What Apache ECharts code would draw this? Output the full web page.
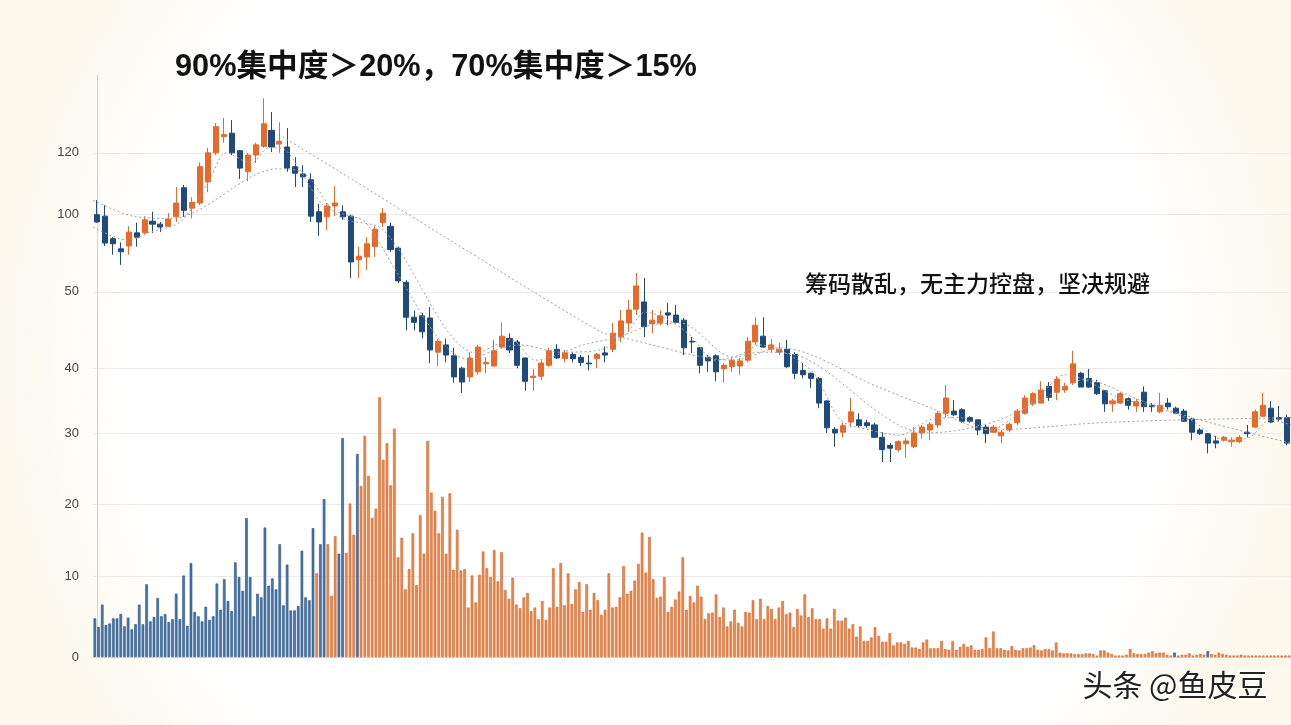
<!DOCTYPE html>
<html>
<head>
<meta charset="utf-8">
<title>筹码集中度</title>
<script src="https://cdn.jsdelivr.net/npm/echarts@6/dist/echarts.min.js"></script>
<style>
  html, body { margin: 0; padding: 0; background: #fff; }
  #chip { width: 1291px; height: 725px; }
</style>
</head>
<body>
<div id="chip"></div>
<script>
// y轴刻度（原图刻度不均匀，按位置给出）
var yTickValues = [0, 11.1, 21.0, 30.8, 39.7, 50.2, 60.8, 69.3];
var yTickLabels = ['0', '10', '20', '30', '40', '50', '100', '120'];

// K线 [开, 收, 低, 高]
var kline = [
  [60.8,59.8,59.7,62.8],[60.6,56.9,56.5,62.1],[57.5,56.8,55.3,57.7],[56.1,55.7,53.9,57.0],
  [56.5,58.4,55.3,59.2],[58.3,57.7,56.4,59.7],[58.3,60.1,58.1,60.6],[59.9,59.5,58.3,61.2],
  [59.5,59.1,58.4,59.8],[59.2,60.2,59.1,61.0],[60.5,62.4,59.8,64.6],[64.5,61.4,60.5,64.9],
  [61.7,62.5,60.3,63.2],[62.4,67.4,62.1,68.0],[65.3,69.3,63.9,70.0],[69.3,72.9,69.0,73.4],
  [71.5,71.8,70.7,74.1],[72.0,69.3,69.0,73.8],[69.6,67.2,65.7,69.7],[66.7,69.0,65.4,69.3],
  [69.0,70.4,67.9,70.7],[70.2,73.3,70.0,76.8],[72.4,70.1,69.4,74.9],[70.5,70.9,69.3,73.5],
  [70.1,67.2,66.7,72.7],[67.4,66.5,64.6,68.7],[66.4,66.0,64.6,67.6],[65.6,60.6,59.8,66.5],
  [61.2,59.8,57.9,62.3],[60.5,62.0,58.7,62.4],[62.0,62.4,60.6,64.7],[61.2,60.5,60.1,62.1],
  [60.6,54.3,52.1,60.8],[54.6,55.1,52.1,56.4],[55.0,56.8,53.2,57.7],[56.4,58.8,55.0,59.2],
  [59.7,61.0,59.1,61.7],[59.2,56.0,55.7,59.7],[56.2,51.7,51.4,56.4],[51.5,46.7,44.9,51.8],
  [46.7,46.0,44.9,47.6],[46.9,44.7,43.8,47.3],[46.6,42.2,40.4,48.1],[41.9,43.4,40.0,43.7],
  [42.9,41.5,40.5,43.8],[41.4,38.5,37.7,42.5],[39.7,37.8,36.3,39.9],[38.5,41.1,37.8,41.9],
  [39.2,42.6,38.8,42.9],[40.3,40.5,39.0,41.2],[40.0,42.1,39.9,43.6],[42.6,44.1,42.5,46.0],
  [43.8,42.2,41.8,44.5],[43.3,40.1,39.7,43.6],[41.1,37.9,36.6,41.2],[38.4,38.6,36.6,39.6],
  [38.6,40.4,38.1,40.8],[40.1,42.1,39.9,42.5],[42.3,41.1,41.0,43.0],[41.0,41.8,40.5,42.2],
  [41.6,41.0,40.5,41.9],[41.2,40.5,40.0,41.5],[40.4,40.3,39.4,41.5],[41.0,41.6,39.7,41.8],
  [41.8,41.5,40.5,42.7],[42.3,44.5,41.9,45.9],[44.0,46.2,43.3,47.7],[45.9,47.7,44.7,49.1],
  [47.8,51.0,47.0,52.8],[48.8,45.4,44.0,52.1],[45.8,46.3,44.5,47.7],[45.9,46.9,45.6,47.6],
  [47.3,47.0,45.6,48.7],[47.0,46.0,45.9,48.4],[46.3,42.5,41.5,46.6],[43.4,43.3,41.8,44.0],
  [42.5,40.1,39.0,42.6],[41.2,40.7,39.2,41.5],[41.4,39.2,37.9,41.6],[39.6,40.1,37.7,40.4],
  [39.9,40.8,39.2,41.2],[40.0,40.7,38.8,41.1],[40.8,43.4,40.5,44.0],[43.3,45.6,42.9,46.7],
  [44.1,42.6,42.5,46.7],[42.3,42.9,41.9,43.7],[41.9,42.3,41.5,43.2],[42.3,39.9,39.7,43.6],
  [41.6,39.0,38.2,41.9],[39.4,38.8,38.3,40.4],[39.0,38.3,37.0,39.1],[38.3,34.9,34.2,38.5],
  [35.2,31.5,30.8,35.3],[31.3,30.8,28.9,31.6],[30.9,31.8,30.2,32.2],[32.3,33.7,31.6,35.6],
  [32.6,31.8,31.6,33.5],[32.2,31.8,31.5,32.6],[31.9,30.2,30.1,32.2],[30.2,28.5,26.8,30.9],
  [29.1,28.7,26.8,29.4],[28.5,29.6,28.2,29.8],[29.3,29.7,27.4,30.1],[28.9,30.8,28.7,31.6],
  [30.8,31.6,30.0,31.9],[31.2,32.0,29.8,32.3],[31.9,33.5,31.5,33.8],[33.5,35.6,32.9,37.4],
  [33.8,33.3,33.1,35.3],[34.0,32.4,32.2,34.2],[32.9,32.4,32.2,33.1],[32.6,31.2,30.5,32.7],
  [31.6,30.7,29.4,31.9],[30.9,31.6,30.8,31.9],[30.4,30.9,29.4,31.2],[31.2,32.0,30.9,32.2],
  [32.2,33.8,31.9,34.1],[33.5,35.6,33.3,36.0],[34.8,36.2,34.5,36.4],[34.9,36.7,34.9,37.9],
  [37.2,35.7,35.2,37.8],[36.4,38.2,35.3,38.6],[36.7,37.2,36.3,37.7],[37.7,40.3,37.4,42.1],
  [39.0,37.1,37.1,39.2],[38.3,37.1,37.0,39.6],[37.7,36.2,36.0,38.1],[36.6,34.8,33.7,36.7],
  [34.8,35.2,33.7,35.5],[34.9,36.2,34.8,36.4],[35.5,34.6,34.0,35.7],[34.5,35.1,33.7,35.5],
  [36.4,34.4,33.7,37.2],[34.6,34.4,33.7,34.9],[33.7,34.6,33.5,36.3],[34.9,34.4,34.0,35.6],
  [34.2,33.5,33.4,34.4],[33.8,32.4,32.3,34.1],[32.7,30.9,29.8,32.9],[31.2,30.7,30.5,31.5],
  [30.7,29.4,28.0,30.8],[29.7,29.4,28.7,30.4],[29.8,30.2,29.6,30.4],[29.6,29.8,28.9,30.2],
  [29.6,30.2,29.4,30.5],[30.9,30.7,30.2,31.9],[31.6,33.7,31.5,34.0],[33.1,34.6,33.0,36.3],
  [34.2,32.3,32.2,35.2],[32.9,32.7,32.4,34.5],[32.9,29.4,29.1,33.3]
];

// 均线（虚线），[K线序号, 数值]
var maFast = [
  [-0.5,59.1],[3.8,57.3],[6.7,58.4],[10.5,59.8],[14.0,65.2],[16.3,69.3],[19.4,67.9],[21.7,70.0],
  [23.7,69.7],[25.6,66.9],[28.5,62.1],[31.3,60.8],[33.8,59.8],[37.6,53.2],[43.2,43.6],[47.0,40.8],
  [49.5,41.9],[53.3,42.9],[58.4,41.9],[63.4,42.2],[66.6,44.3],[69.1,47.4],[71.6,46.6],[74.7,44.3],
  [77.9,40.8],[81.0,41.5],[83.6,42.9],[87.3,41.5],[90.5,38.8],[93.7,32.6],[97.4,31.2],[101.2,30.5],
  [105.0,32.6],[108.8,32.9],[112.6,31.2],[115.1,32.6],[118.9,36.0],[122.0,38.8],[124.5,38.1],
  [128.9,35.6],[132.7,34.6],[137.8,32.6],[142.2,29.8],[145.3,30.2],[147.9,32.6],[150.5,31.9]
];
var maMid = [
  [-0.5,62.8],[4.5,60.6],[9.5,60.3],[22.7,67.1],[26.1,66.5],[30.6,60.5],[36.1,58.7],[47.8,41.8],
  [52.2,43.6],[55.3,40.8],[61.3,42.9],[65.8,44.0],[69.7,45.6],[73.5,45.9],[80.2,41.2],[83.6,41.9],
  [88.2,41.5],[98.7,33.5],[101.6,31.6],[104.4,30.8],[108.8,31.2],[113.8,32.6],[118.9,35.3],
  [124.5,38.1],[131.5,35.3],[139.0,32.6],[150.5,29.4]
];
var maSlow = [
  [23.4,71.5],[30.6,66.7],[44.5,57.3],[63.5,44.7],[66.6,43.8],[80.2,40.8],[86.1,42.5],[98.7,37.0],
  [105.2,34.2],[112.6,31.2],[126.4,32.2],[136.9,32.6],[150.5,32.9]
];

// 筹码柱
var vol = [
  5.3,4.1,7.2,4.4,4.6,5.3,5.3,5.9,4.2,5.4, 3.8,4.5,7.2,4.5,10.0,4.9,5.5,8.1,5.6,5.9,
  4.8,5.2,8.7,5.2,11.2,4.3,12.9,6.2,5.6,4.9, 6.9,5.1,5.6,10.1,6.5,10.7,7.7,6.3,13.0,11.0,
  9.1,19.1,11.0,5.6,8.7,8.2,17.8,9.8,10.8,9.3, 15.5,7.1,12.7,6.4,6.4,7.0,14.6,8.2,7.8,17.7,
  11.5,15.5,21.7,15.5,8.4,16.6,14.2,30.1,14.3,21.1, 16.8,27.9,23.5,30.4,24.9,19.1,20.4,35.7,27.1,29.4,
  23.6,31.4,13.7,16.4,9.3,12.1,17.0,9.9,19.5,14.2, 29.7,22.6,20.1,17.0,22.0,14.2,22.5,12.0,17.5,11.9,
  12.1,6.8,11.2,7.5,11.3,14.5,12.2,11.0,14.7,10.4, 14.4,9.2,8.0,10.9,7.2,6.7,8.2,8.8,6.3,6.8,
  5.2,7.7,5.1,6.8,12.2,6.9,12.9,7.1,11.5,7.3, 9.3,10.3,6.2,10.0,6.5,8.8,7.8,5.8,6.5,11.5,
  6.8,6.9,8.2,12.5,8.7,9.1,10.5,12.8,17.1,11.6, 16.5,10.7,8.1,8.3,11.0,6.2,6.9,7.9,9.0,13.7,
  6.5,8.4,7.5,9.8,8.3,5.2,6.0,6.1,8.6,5.5, 6.8,4.2,4.9,6.5,4.7,4.2,6.2,6.1,7.8,5.2,
  8.0,5.2,7.0,6.6,5.2,6.8,7.7,5.9,6.1,4.1, 6.6,5.7,8.6,5.5,6.7,5.2,5.2,3.9,5.3,3.9,
  6.6,5.0,5.0,5.4,3.9,4.5,2.8,4.2,2.2,2.2, 2.7,4.1,2.9,2.1,2.1,3.3,1.6,2.0,2.0,1.8,
  2.2,1.3,1.3,1.1,2.0,2.4,1.2,1.2,1.2,2.2, 1.1,1.0,2.2,1.0,1.4,1.8,1.4,1.6,1.0,1.0,
  1.1,2.7,1.2,3.5,1.2,1.2,1.0,0.9,1.5,1.0, 0.9,1.2,1.2,1.3,1.6,1.0,0.9,1.1,1.1,0.9,
  2.0,0.6,0.5,0.5,0.5,0.4,0.4,0.4,0.5,0.5, 0.4,0.2,0.9,0.9,0.6,0.4,0.2,0.2,0.2,0.3,
  1.1,0.5,0.4,0.4,0.4,0.6,0.8,0.5,0.6,0.6, 0.3,0.2,0.6,0.2,0.3,0.3,0.5,0.2,0.3,0.4,
  0.3,0.8,0.4,0.3,0.6,0.4,0.3,0.2,0.2,0.2, 0.3,0.2,0.2,0.2,0.2,0.2,0.2,0.2,0.2,0.2,
  0.2,0.2,0.2,0.2
];
// 蓝色柱：前 blueCount 根，以及个别序号
var blueCount = 60;
var blueExtra = [61, 62, 66, 67, 71, 292, 301];

var kDays = kline.map(function (d, i) { return i + 1; });
var volDays = vol.map(function (d, i) { return i + 1; });

var UP = '#e8692a', DOWN = '#1f4a7c';

function renderChip() {
  var dom = document.getElementById('chip');
  var myChart = echarts.init(dom);

  var maStyle = { color: '#a0a0a0', width: 1, type: [2, 2.5] };

  var blueStyle = { color: '#4878ad', borderColor: '#264f7d', borderWidth: 0.6 };
  var orangeStyle = { color: '#ef8848', borderColor: '#d0622a', borderWidth: 0.6 };
  var volData = vol.map(function (v, i) {
    var blue = i < blueCount || blueExtra.indexOf(i) >= 0;
    return { value: v, itemStyle: blue ? blueStyle : orangeStyle };
  });

  var option = {
    animation: false,
    backgroundColor: {
      type: 'radial', x: 0.5, y: 0.5, r: 0.9,
      colorStops: [
        { offset: 0, color: '#ffffff' },
        { offset: 0.8, color: '#ffffff' },
        { offset: 1, color: '#fcf8ec' }
      ]
    },
    grid: { left: 93, right: 0, top: 75, bottom: 68 },
    xAxis: [
      {
        type: 'category', data: kDays, boundaryGap: true,
        axisLine: { show: true, lineStyle: { color: '#d4d4d4' } },
        axisTick: { show: false }, axisLabel: { show: false }, splitLine: { show: false }
      },
      {
        type: 'category', data: volDays, boundaryGap: true, show: false
      },
      {
        type: 'value', min: -0.5, max: kline.length - 0.5, show: false
      }
    ],
    yAxis: {
      type: 'value', min: 0, max: 80,
      axisLine: { show: true, lineStyle: { color: '#d4d4d4' } },
      axisTick: { show: false, customValues: yTickValues },
      axisLabel: {
        customValues: yTickValues,
        color: '#444', fontSize: 13, margin: 14,
        fontFamily: 'Liberation Sans, Arial, sans-serif',
        formatter: function (v) {
          for (var i = 0; i < yTickValues.length; i++) {
            if (Math.abs(yTickValues[i] - v) < 0.01) return yTickLabels[i];
          }
          return '';
        }
      },
      splitLine: { show: true, lineStyle: { color: '#ebebeb', width: 1 } }
    },
    series: [
      {
        name: 'vol', type: 'bar', xAxisIndex: 1, yAxisIndex: 0,
        data: volData, barWidth: '70%', z: 1
      },
      {
        name: 'K', type: 'candlestick', xAxisIndex: 0, yAxisIndex: 0,
        data: kline, barWidth: '70%', z: 3,
        itemStyle: {
          color: UP, color0: DOWN, borderColor: UP, borderColor0: DOWN, borderWidth: 1
        }
      },
      {
        name: 'maFast', type: 'line', xAxisIndex: 2, yAxisIndex: 0, data: maFast,
        smooth: 0.3, symbol: 'none', lineStyle: maStyle, z: 4
      },
      {
        name: 'maMid', type: 'line', xAxisIndex: 2, yAxisIndex: 0, data: maMid,
        smooth: 0.3, symbol: 'none', lineStyle: maStyle, z: 4
      },
      {
        name: 'maSlow', type: 'line', xAxisIndex: 2, yAxisIndex: 0, data: maSlow,
        smooth: 0.3, symbol: 'none', lineStyle: maStyle, z: 4
      }
    ],
    graphic: [
      {
        type: 'text', left: 175, top: 52, z: 10,
        style: {
          text: '90%集中度＞20%，70%集中度＞15%',
          font: 'bold 30.7px "Liberation Sans", "Noto Sans CJK SC", sans-serif',
          fill: '#111'
        }
      },
      {
        type: 'text', left: 805, top: 272, z: 10,
        style: {
          text: '筹码散乱，无主力控盘，坚决规避',
          font: '500 23px "Noto Sans CJK SC", sans-serif',
          fill: '#111'
        }
      },
      {
        type: 'text', right: 22, top: 668, z: 10,
        style: {
          text: '头条 @鱼皮豆',
          font: '30px "Noto Sans CJK SC", sans-serif',
          fill: '#222', stroke: '#ffffff', lineWidth: 3
        }
      }
    ]
  };

  myChart.setOption(option, true);
}

renderChip();
</script>
</body>
</html>
